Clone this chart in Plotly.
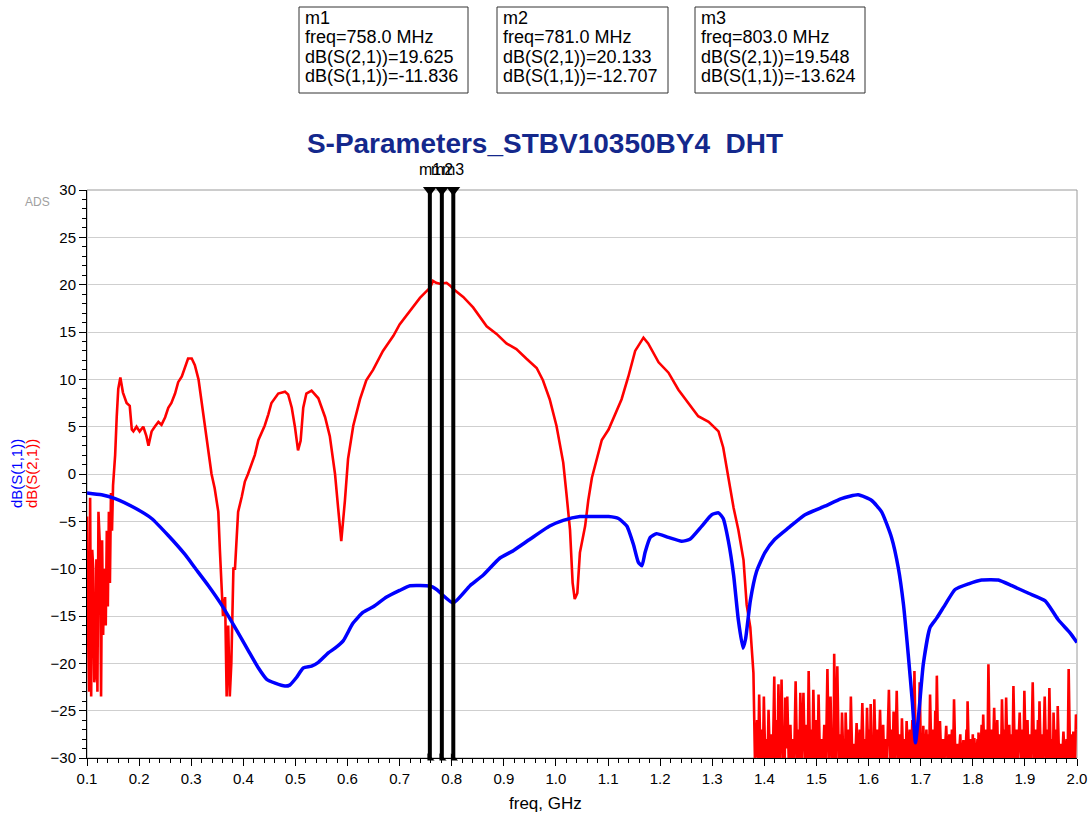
import plotly.graph_objects as go

# ---------------- data ----------------
# dB(S(2,1)) (red) - main part
s21_freq = [0.100, 0.101, 0.104, 0.106, 0.108, 0.110, 0.112, 0.114, 0.116, 0.118,
            0.120, 0.122, 0.125, 0.127, 0.129, 0.131, 0.133, 0.136, 0.138, 0.140,
            0.142, 0.144, 0.146, 0.148, 0.150, 0.154, 0.157, 0.160, 0.164, 0.169,
            0.176, 0.182, 0.186, 0.189, 0.195, 0.201, 0.208, 0.214, 0.218, 0.224,
            0.230, 0.237, 0.243, 0.250, 0.256, 0.262, 0.269, 0.275, 0.282, 0.288,
            0.294, 0.301, 0.307, 0.314, 0.320, 0.326, 0.333, 0.339, 0.345, 0.352,
            0.355, 0.358, 0.361, 0.365, 0.368, 0.371, 0.374, 0.377, 0.381, 0.384,
            0.387, 0.390, 0.397, 0.403, 0.409, 0.416, 0.422, 0.429, 0.435, 0.441,
            0.448, 0.454, 0.467, 0.480, 0.486, 0.493, 0.499, 0.505, 0.510, 0.515,
            0.521, 0.531, 0.544, 0.557, 0.566, 0.576, 0.582, 0.588, 0.595, 0.601,
            0.611, 0.624, 0.636, 0.649, 0.668, 0.688, 0.700, 0.720, 0.739, 0.755,
            0.758, 0.764, 0.770, 0.777, 0.781, 0.790, 0.797, 0.803, 0.822, 0.841,
            0.867, 0.886, 0.905, 0.924, 0.943, 0.963, 0.975, 0.988, 1.001, 1.014,
            1.020, 1.027, 1.032, 1.036, 1.041, 1.046, 1.056, 1.062, 1.069, 1.075,
            1.088, 1.101, 1.113, 1.126, 1.139, 1.152, 1.168, 1.177, 1.197, 1.216,
            1.235, 1.254, 1.273, 1.293, 1.312, 1.321, 1.331, 1.341, 1.350, 1.360,
            1.366, 1.373, 1.379]
s21_db = [-4.5, -13.0, -23.0, -2.5, -23.5, -8.0, -10.0, -22.0, -21.0, -9.0,
          -23.0, -4.0, -8.0, -23.5, -7.0, -17.0, -10.0, -16.0, -6.0, -14.0,
          -4.0, -11.5, -2.0, -6.0, -1.2, 2.0, 6.0, 9.0, 10.2, 8.6,
          7.5, 7.2, 4.7, 4.5, 5.0, 4.5, 5.0, 4.0, 3.0, 4.5,
          5.0, 5.5, 5.2, 6.0, 7.0, 7.5, 8.5, 9.7, 10.3, 11.2,
          12.2, 12.2, 11.5, 10.0, 7.5, 5.0, 2.0, 0.0, -1.5, -4.0,
          -8.0, -12.0, -15.0, -13.0, -23.5, -16.0, -23.5, -20.0, -10.0, -10.0,
          -6.3, -4.0, -2.4, -0.8, 0.0, 1.2, 2.0, 3.6, 4.3, 5.1,
          6.3, 7.5, 8.5, 8.7, 8.4, 7.0, 5.0, 2.5, 3.5, 7.0,
          8.5, 8.8, 8.0, 6.0, 4.0, 0.0, -3.6, -7.1, -2.8, 1.6,
          5.1, 7.9, 9.9, 11.0, 13.0, 14.6, 15.8, 17.2, 18.6, 19.5,
          19.625, 20.4, 20.2, 20.1, 20.133, 20.2, 19.9, 19.548, 18.7, 17.6,
          15.6, 14.8, 13.8, 13.2, 12.2, 11.2, 9.9, 7.9, 5.1, 1.2,
          -2.0, -5.9, -11.5, -13.2, -12.6, -8.3, -5.5, -2.8, -0.4, 0.8,
          3.6, 4.7, 6.3, 7.9, 10.3, 13.0, 14.4, 13.8, 11.8, 10.7,
          8.9, 7.5, 6.1, 5.5, 4.5, 2.8, -0.4, -3.6, -5.9, -9.1,
          -13.8, -16.2, -21.0]

# dB(S(2,1)) (red) - noise floor above 1.38 GHz
noise_freq = [1.382, 1.386, 1.388, 1.390, 1.393, 1.396, 1.397, 1.399, 1.402, 1.405,
              1.406, 1.408, 1.411, 1.414, 1.416, 1.419, 1.421, 1.424, 1.425, 1.427,
              1.430, 1.433, 1.436, 1.438, 1.439, 1.440, 1.442, 1.444, 1.447, 1.450,
              1.452, 1.455, 1.457, 1.460, 1.463, 1.466, 1.467, 1.469, 1.472, 1.475,
              1.478, 1.481, 1.483, 1.485, 1.488, 1.491, 1.492, 1.494, 1.497, 1.500,
              1.502, 1.504, 1.507, 1.510, 1.512, 1.515, 1.518, 1.521, 1.524, 1.527,
              1.530, 1.532, 1.533, 1.534, 1.537, 1.540, 1.543, 1.546, 1.547, 1.549,
              1.552, 1.554, 1.555, 1.556, 1.559, 1.562, 1.564, 1.566, 1.569, 1.572,
              1.574, 1.577, 1.580, 1.583, 1.585, 1.588, 1.591, 1.594, 1.595, 1.597,
              1.600, 1.602, 1.603, 1.604, 1.607, 1.609, 1.610, 1.611, 1.614, 1.617,
              1.619, 1.622, 1.625, 1.628, 1.630, 1.633, 1.635, 1.639, 1.642, 1.645,
              1.646, 1.648, 1.651, 1.654, 1.657, 1.660, 1.662, 1.664, 1.667, 1.670,
              1.671, 1.673, 1.676, 1.679, 1.681, 1.684, 1.686, 1.688, 1.691, 1.694,
              1.696, 1.698, 1.701, 1.703, 1.704, 1.705, 1.708, 1.711, 1.713, 1.715,
              1.716, 1.718, 1.721, 1.724, 1.726, 1.728, 1.729, 1.731, 1.734, 1.737,
              1.740, 1.743, 1.745, 1.749, 1.752, 1.755, 1.757, 1.760, 1.762, 1.764,
              1.767, 1.770, 1.772, 1.776, 1.778, 1.782, 1.785, 1.788, 1.789, 1.790,
              1.793, 1.796, 1.798, 1.800, 1.801, 1.803, 1.806, 1.809, 1.810, 1.811,
              1.814, 1.817, 1.818, 1.820, 1.823, 1.826, 1.828, 1.830, 1.833, 1.836,
              1.838, 1.841, 1.844, 1.847, 1.849, 1.852, 1.854, 1.856, 1.859, 1.861,
              1.862, 1.864, 1.867, 1.870, 1.872, 1.875, 1.876, 1.878, 1.881, 1.884,
              1.886, 1.890, 1.893, 1.896, 1.897, 1.899, 1.902, 1.905, 1.907, 1.910,
              1.912, 1.915, 1.918, 1.921, 1.923, 1.925, 1.926, 1.928, 1.931, 1.934,
              1.935, 1.938, 1.941, 1.944, 1.945, 1.947, 1.950, 1.953, 1.954, 1.955,
              1.958, 1.961, 1.962, 1.963, 1.966, 1.969, 1.971, 1.974, 1.977, 1.980,
              1.982, 1.984, 1.987, 1.990, 1.991, 1.993, 1.996, 1.998, 2.000]
noise_db = [-30.5, -26.0, -31.0, -23.3, -31.0, -27.0, -31.0, -23.5, -31.0, -28.0,
            -31.0, -24.9, -31.0, -27.5, -31.0, -21.4, -31.0, -26.0, -31.0, -22.2,
            -31.0, -21.7, -31.0, -27.0, -31.0, -23.6, -29.0, -23.5, -31.0, -26.5,
            -31.0, -28.0, -31.0, -21.9, -31.0, -27.0, -31.0, -23.1, -30.0, -23.1,
            -31.0, -26.5, -31.0, -20.8, -31.0, -27.0, -31.0, -22.8, -31.0, -26.0,
            -31.0, -23.3, -31.0, -28.0, -31.0, -26.5, -31.0, -20.6, -31.0, -23.5,
            -31.0, -27.0, -31.0, -19.0, -31.0, -20.3, -31.0, -27.5, -31.0, -25.2,
            -31.0, -28.0, -31.0, -25.2, -31.0, -27.0, -31.0, -23.5, -31.0, -28.5,
            -31.0, -26.3, -31.0, -27.0, -31.0, -24.2, -31.0, -28.0, -31.0, -24.7,
            -31.0, -27.0, -31.0, -24.3, -31.0, -28.0, -31.0, -23.8, -31.0, -27.0,
            -31.0, -24.9, -31.0, -26.5, -31.0, -28.0, -31.0, -22.8, -31.0, -27.0,
            -31.0, -25.1, -31.0, -22.9, -31.0, -27.5, -31.0, -25.8, -31.0, -28.0,
            -31.0, -26.1, -31.0, -27.0, -31.0, -26.0, -31.0, -20.8, -31.0, -27.0,
            -31.0, -22.0, -31.0, -28.0, -31.0, -26.6, -31.0, -27.0, -31.0, -27.5,
            -31.0, -23.3, -31.0, -27.0, -31.0, -25.0, -31.0, -21.3, -31.0, -26.1,
            -31.0, -28.0, -31.0, -26.6, -31.0, -27.5, -31.0, -27.0, -31.0, -23.8,
            -31.0, -28.5, -31.0, -27.5, -31.0, -28.1, -31.0, -27.0, -31.0, -24.0,
            -31.0, -28.0, -31.0, -27.5, -31.0, -27.9, -31.0, -28.0, -31.0, -27.3,
            -31.0, -26.5, -31.0, -25.4, -31.0, -27.0, -31.0, -20.1, -31.0, -27.0,
            -31.0, -24.7, -31.0, -26.0, -31.0, -27.5, -31.0, -23.8, -31.0, -27.0,
            -31.0, -23.6, -31.0, -26.5, -31.0, -27.5, -31.0, -22.4, -31.0, -27.0,
            -31.0, -25.2, -31.0, -27.0, -31.0, -22.9, -31.0, -26.0, -31.0, -27.5,
            -31.0, -22.0, -31.0, -27.0, -31.0, -26.0, -31.0, -24.0, -31.0, -27.5,
            -31.0, -23.5, -31.0, -27.0, -31.0, -22.6, -31.0, -28.0, -31.0, -25.2,
            -31.0, -27.0, -31.0, -24.5, -31.0, -28.5, -31.0, -27.2, -31.0, -28.0,
            -31.0, -20.6, -31.0, -27.5, -31.0, -27.2, -31.0, -25.4, -27.0]

# dB(S(1,1)) (blue)
s11_freq = [0.100, 0.128, 0.154, 0.192, 0.224, 0.256, 0.288, 0.307, 0.333, 0.358,
            0.384, 0.409, 0.429, 0.445, 0.461, 0.480, 0.489, 0.502, 0.515, 0.531,
            0.544, 0.563, 0.576, 0.592, 0.610, 0.630, 0.650, 0.675, 0.700, 0.720,
            0.758, 0.771, 0.781, 0.803, 0.835, 0.860, 0.892, 0.918, 0.950, 0.988,
            1.014, 1.046, 1.062, 1.101, 1.120, 1.136, 1.149, 1.158, 1.165, 1.171,
            1.181, 1.193, 1.216, 1.241, 1.257, 1.280, 1.299, 1.312, 1.321, 1.331,
            1.341, 1.350, 1.359, 1.364, 1.373, 1.385, 1.401, 1.420, 1.446, 1.478,
            1.516, 1.548, 1.580, 1.606, 1.625, 1.644, 1.657, 1.667, 1.676, 1.684,
            1.690, 1.697, 1.705, 1.718, 1.731, 1.747, 1.766, 1.792, 1.817, 1.849,
            1.875, 1.907, 1.939, 1.964, 1.987, 2.000]
s11_db = [-2.0, -2.2, -2.6, -3.6, -4.7, -6.5, -8.5, -9.9, -11.8, -13.8,
          -16.2, -18.6, -20.5, -21.7, -22.1, -22.4, -22.3, -21.5, -20.5, -20.3,
          -19.9, -18.9, -18.4, -17.6, -15.8, -14.6, -14.0, -13.0, -12.3, -11.8,
          -11.836, -12.2, -12.707, -13.624, -11.8, -10.7, -8.9, -8.1, -6.9, -5.5,
          -4.9, -4.5, -4.5, -4.5, -4.7, -5.5, -7.5, -9.3, -9.7, -8.3,
          -6.7, -6.3, -6.7, -7.1, -6.9, -5.5, -4.3, -4.1, -4.7, -7.1,
          -10.7, -15.4, -18.4, -17.4, -13.4, -10.3, -8.3, -6.9, -5.7, -4.3,
          -3.4, -2.6, -2.2, -2.8, -4.0, -6.7, -9.9, -13.8, -19.0, -24.1,
          -28.4, -24.9, -20.1, -16.2, -15.2, -13.8, -12.2, -11.6, -11.2, -11.2,
          -11.8, -12.6, -13.4, -15.4, -16.8, -17.8]

# markers
marker_names = ["m1", "m2", "m3"]
marker_freq_ghz = [0.758, 0.781, 0.803]
marker_s21 = ["19.625", "20.133", "19.548"]
marker_s11 = ["-11.836", "-12.707", "-13.624"]

x_ticks = [round(0.1 * i, 1) for i in range(1, 21)]
y_ticks = list(range(-30, 31, 5))

FONT = "Liberation Sans, Arial, sans-serif"
RED = "rgb(255,0,0)"
BLUE = "rgb(0,0,255)"

# plot-area geometry in page pixels (used to convert page positions to paper coords)
W, H = 1089, 818
L, R, T, B = 87, 12, 190, 60
PW, PH = W - L - R, H - T - B


def px(xp):
    return (xp - L) / PW


def py(yp):
    return (H - B - yp) / PH


fig = go.Figure()

fig.add_trace(go.Scatter(x=s21_freq + noise_freq, y=s21_db + noise_db, mode="lines",
                         line=dict(color=RED, width=2.6), showlegend=False))
fig.add_trace(go.Scatter(x=s11_freq, y=s11_db, mode="lines",
                         line=dict(color=BLUE, width=3.5, shape="spline", smoothing=0.5),
                         showlegend=False))

# marker lines
for f in marker_freq_ghz:
    fig.add_trace(go.Scatter(x=[f, f], y=[-30, 30], mode="lines",
                             line=dict(color="black", width=4), showlegend=False,
                             cliponaxis=False))
fig.add_trace(go.Scatter(x=marker_freq_ghz, y=[30] * 3, mode="markers",
                         marker=dict(symbol="triangle-down", size=12, color="black"),
                         showlegend=False, cliponaxis=False))
fig.add_trace(go.Scatter(x=marker_freq_ghz, y=[-30] * 3, mode="markers",
                         marker=dict(symbol="triangle-sw", size=8, color="black"),
                         showlegend=False, cliponaxis=False))

# marker labels above the lines
for name, f in zip(marker_names, marker_freq_ghz):
    fig.add_annotation(x=f, y=py(169), xref="x", yref="paper", text=name, showarrow=False,
                       font=dict(family=FONT, size=16, color="black"),
                       xanchor="center", yanchor="middle")

# marker readout boxes
box_left_px = [299, 497, 695]
box_right_px = [468, 668, 865]
line_y_px = [18, 37, 57, 76]
for name, f, s21, s11, lx, rx in zip(marker_names, marker_freq_ghz, marker_s21, marker_s11,
                                     box_left_px, box_right_px):
    fig.add_shape(type="rect", xref="paper", yref="paper", x0=px(lx), x1=px(rx),
                  y0=py(93), y1=py(7), line=dict(color="#333333", width=1),
                  fillcolor="white")
    lines = [name, f"freq={f * 1000:.1f} MHz", f"dB(S(2,1))={s21}", f"dB(S(1,1))={s11}"]
    for txt, ly in zip(lines, line_y_px):
        fig.add_annotation(x=px(lx + 4), y=py(ly), xref="paper", yref="paper",
                           text=txt, showarrow=False, xanchor="left", yanchor="middle",
                           font=dict(family=FONT, size=18, color="black"))

# y-axis titles
fig.add_annotation(x=px(16), y=py(474), xref="paper", yref="paper", text="dB(S(1,1))",
                   textangle=-90, showarrow=False, xanchor="center", yanchor="middle",
                   font=dict(family=FONT, size=15, color=BLUE))
fig.add_annotation(x=px(31), y=py(474), xref="paper", yref="paper", text="dB(S(2,1))",
                   textangle=-90, showarrow=False, xanchor="center", yanchor="middle",
                   font=dict(family=FONT, size=15, color=RED))
# ADS label
fig.add_annotation(x=px(37), y=py(202), xref="paper", yref="paper",
                   text="ADS", showarrow=False, xanchor="center", yanchor="middle",
                   font=dict(family=FONT, size=12, color="#a0a0a0"))
# x-axis title
fig.add_annotation(x=px(545), y=py(803), xref="paper", yref="paper",
                   text="freq, GHz", showarrow=False, xanchor="center", yanchor="middle",
                   font=dict(family=FONT, size=17, color="black"))

# gray frame (top / right)
fig.add_shape(type="rect", xref="x domain", yref="y domain", x0=0, x1=1, y0=0, y1=1,
              line=dict(color="#9a9a9a", width=1), layer="below")

fig.update_layout(
    width=W, height=H,
    margin=dict(l=L, r=R, t=T, b=B, autoexpand=False),
    paper_bgcolor="white", plot_bgcolor="white",
    title=dict(text="<b>S-Parameters_STBV10350BY4  DHT</b>", x=545 / W, xref="container",
               y=1 - 143 / H, yref="container", xanchor="center", yanchor="middle",
               font=dict(family=FONT, size=28, color="#14288c")),
    font=dict(family=FONT, size=14, color="black"),
    showlegend=False,
)
fig.update_xaxes(range=[0.1, 2.0], tickvals=x_ticks, ticktext=[f"{v:.1f}" for v in x_ticks],
                 automargin=False,
                 showgrid=False, zeroline=False, showline=True, linecolor="black", linewidth=1,
                 ticks="outside", ticklen=7, tickcolor="black", tickwidth=1,
                 tickfont=dict(family=FONT, size=15, color="black"),
                 minor=dict(dtick=0.02, tick0=0.1, ticks="outside", ticklen=4,
                            tickcolor="black", showgrid=False))
fig.update_yaxes(range=[-30, 30], tickvals=y_ticks, automargin=False,
                 showgrid=True, gridcolor="#cfcfcf",
                 gridwidth=1, zeroline=False, showline=True, linecolor="black", linewidth=1,
                 ticks="outside", ticklen=7, tickcolor="black", tickwidth=1,
                 tickfont=dict(family=FONT, size=15, color="black"),
                 minor=dict(dtick=1, tick0=0, ticks="outside", ticklen=4,
                            tickcolor="black", showgrid=False))

fig.write_html("out.html", config={"displayModeBar": False},
               post_script="document.body.style.margin='0';"
                           "document.body.style.overflow='hidden';")
